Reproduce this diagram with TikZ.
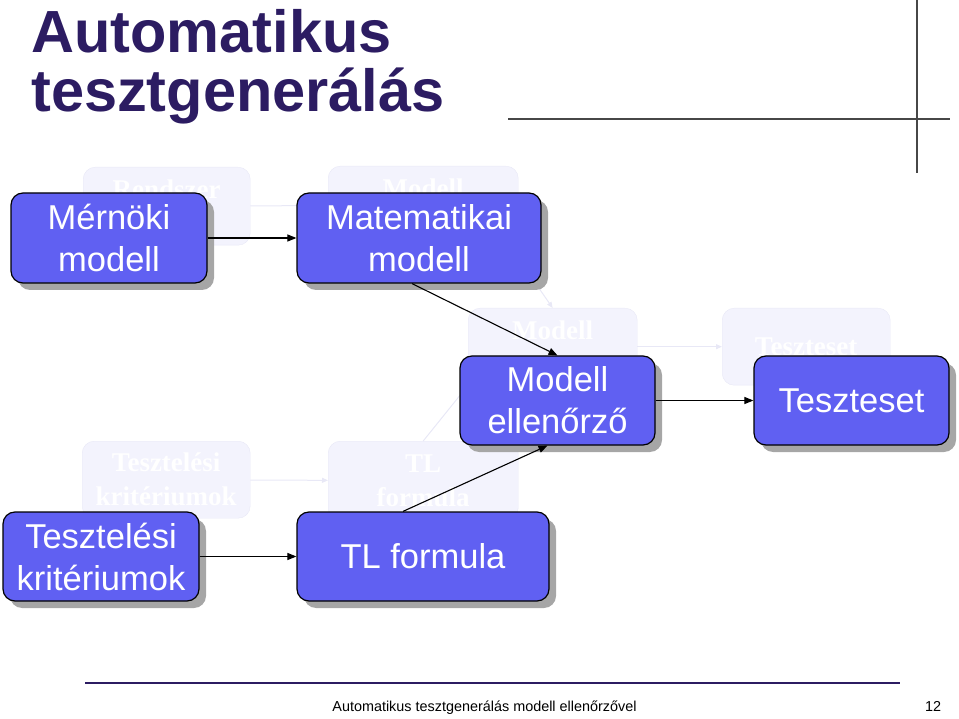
\documentclass[tikz,border=0pt]{standalone}
\usepackage{fontspec}
\setmainfont{Liberation Sans}
\newfontfamily\ghostfont{Liberation Serif}
\usepackage{xcolor}
\usetikzlibrary{arrows.meta,shadows}
\definecolor{boxblue}{RGB}{96,96,242}
\definecolor{titleblue}{RGB}{44,28,98}
\definecolor{ghostfill}{RGB}{243,243,253}
\definecolor{ghostline}{RGB}{232,232,246}

\begin{document}
\begin{tikzpicture}[x=1pt,y=-1pt,
  boxv/.style={draw=black,line width=1.2pt,fill=boxblue,rounded corners=12pt,
    text=white,align=center,font=\fontsize{34.5}{42}\selectfont,
    drop shadow={shadow xshift=7pt,shadow yshift=-7pt,fill=black!35,opacity=1}},
  ghostv/.style={draw=ghostline,fill=ghostfill,rounded corners=12pt,text=white,
    align=center,font=\ghostfont\bfseries\fontsize{27}{34}\selectfont},
  arr/.style={line width=1.1pt,-{Triangle[length=9pt,width=7pt]}},
  ghostarr/.style={line width=1pt,draw=ghostline,-{Triangle[length=6pt,width=5pt]}},
  rule/.style={line width=1.6pt,draw=black!72}]
  \useasboundingbox (0,0) rectangle (959,719);
  % title and slide rules
  \node[anchor=base west,text=titleblue,font=\bfseries\fontsize{59.5}{62}\selectfont,inner sep=0pt] (title1) at (31,53) {Automatikus};
  \node[anchor=base west,text=titleblue,font=\bfseries\fontsize{59.5}{62}\selectfont,inner sep=0pt] (title2) at (31,112) {tesztgenerálás};
  \draw[rule] (508,119)--(950,119);
  \draw[rule] (917,0)--(917,173);
  % ghost of the previous diagram
  \node[ghostv,minimum width=167pt,minimum height=78pt,anchor=north west] (gRendszer) at (83,167) {Rendszer\\ };
  \node[ghostv,minimum width=190pt,minimum height=78pt,anchor=north west] (gModell1) at (328,166) {Modell\\ };
  \node[ghostv,minimum width=169pt,minimum height=77pt,anchor=north west] (gModell2) at (468,308) {Modell\\ };
  \node[ghostv,minimum width=168pt,minimum height=77pt,anchor=north west] (gTeszt) at (722,308) {Teszteset};
  \node[ghostv,minimum width=168pt,minimum height=77pt,anchor=north west] (gKrit) at (82,441) {Tesztelési\\kritériumok};
  \node[ghostv,minimum width=190pt,minimum height=79pt,anchor=north west] (gTL) at (328,441) {TL\\formula};
  \draw[ghostarr] (gRendszer) -- (gModell1);
  \draw[ghostarr] (gModell1.south east) ++(-10,0) -- (gModell2.north);
  \draw[ghostarr] (gModell2) -- (gTeszt);
  \draw[ghostarr] (gKrit) -- (gTL);
  \draw[ghostarr] (gTL.north) -- (gModell2.south west);
  % the diagram
  \node[boxv,minimum width=196pt,minimum height=90pt] (mernoki) at (109,238) {Mérnöki\\modell};
  \node[boxv,minimum width=244pt,minimum height=90pt] (matek) at (419,238) {Matematikai\\modell};
  \node[boxv,minimum width=195pt,minimum height=89pt] (ellenorzo) at (557.5,400.5) {Modell\\ellenőrző};
  \node[boxv,minimum width=195pt,minimum height=89pt] (teszteset) at (851.5,400.5) {Teszteset};
  \node[boxv,minimum width=196pt,minimum height=89pt] (kriterium) at (101,556.5) {Tesztelési\\kritériumok};
  \node[boxv,minimum width=252pt,minimum height=89pt] (tlform) at (423,556.5) {TL formula};
  \draw[arr] (mernoki) -- (matek);
  \draw[arr] ([xshift=-7pt]matek.south) -- (ellenorzo.north);
  \draw[arr] ([xshift=-20pt]tlform.north) -- ([xshift=-10pt]ellenorzo.south);
  \draw[arr] (ellenorzo) -- (teszteset);
  \draw[arr] (kriterium) -- (tlform);
  % footer
  \draw[line width=1.8pt,draw=titleblue] (85,683)--(900,683);
  \node[anchor=base,font=\fontsize{14.4}{16}\selectfont,inner sep=0pt] (foot) at (484.5,711) {Automatikus tesztgenerálás modell ellenőrzővel};
  \node[anchor=base,font=\fontsize{14.4}{16}\selectfont,inner sep=0pt] (page) at (933,711) {12};
\end{tikzpicture}
\end{document}
